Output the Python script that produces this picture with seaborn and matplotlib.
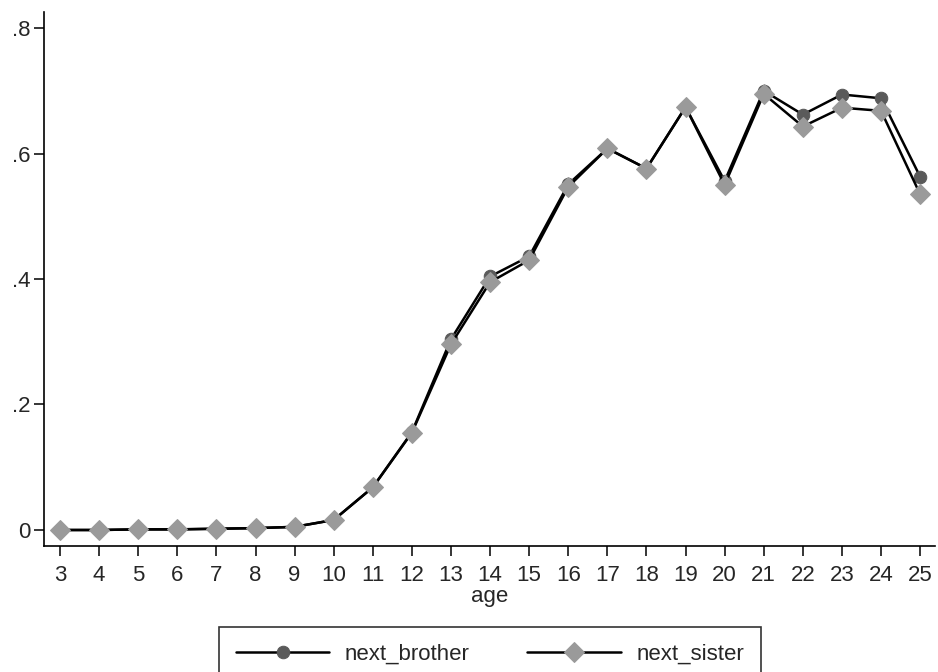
import seaborn as sns
import matplotlib.pyplot as plt
import pandas as pd

# values
age = list(range(3, 26))
next_brother = [0.000, 0.000, 0.001, 0.001, 0.002, 0.003, 0.005, 0.016, 0.068, 0.156,
                0.304, 0.404, 0.436, 0.551, 0.608, 0.576, 0.674, 0.556, 0.700, 0.662,
                0.694, 0.688, 0.563]
next_sister = [0.000, 0.000, 0.001, 0.001, 0.002, 0.003, 0.005, 0.016, 0.068, 0.155,
               0.296, 0.395, 0.430, 0.547, 0.608, 0.576, 0.674, 0.550, 0.695, 0.643,
               0.673, 0.668, 0.535]

data = pd.DataFrame({"age": age, "next_brother": next_brother, "next_sister": next_sister})

sns.set_style("white")
plt.rcParams['font.family'] = ['Liberation Sans', 'DejaVu Sans']

fig = plt.figure(figsize=(9.38, 6.72), dpi=100)
ax = fig.add_axes([44/938, 126/672, 891/938, 534/672])

sns.lineplot(data=data, x="age", y="next_brother", ax=ax, color="black", linewidth=1.8,
             marker="o", markersize=9, markerfacecolor="#5a5a5a", markeredgecolor="#5a5a5a",
             label="next_brother")
sns.lineplot(data=data, x="age", y="next_sister", ax=ax, color="black", linewidth=1.8,
             marker="D", markersize=10, markerfacecolor="#9a9a9a", markeredgecolor="#9a9a9a",
             label="next_sister")

ax.set_xlim(2.59, 25.38)
ax.set_ylim(-0.0255, 0.8255)
ax.set_xticks(age)
ax.set_yticks([0, 0.2, 0.4, 0.6, 0.8])
ax.set_yticklabels(["0", ".2", ".4", ".6", ".8"])
ax.tick_params(axis='both', labelsize=16, direction='out', length=7, width=1.1, color='black',
               bottom=True, left=True)
ax.tick_params(axis='x', pad=7)
ax.tick_params(axis='y', pad=3)
ax.set_xlabel("age", fontsize=16, labelpad=0)
ax.set_ylabel("")
for s in ["top", "right"]:
    ax.spines[s].set_visible(False)
for s in ["left", "bottom"]:
    ax.spines[s].set_color("black")
    ax.spines[s].set_linewidth(1.2)

ax.get_legend().remove()
handles, labels = ax.get_legend_handles_labels()
leg = fig.legend(handles, labels, loc="upper center", bbox_to_anchor=(490/938, 1 - 627/672),
                 ncol=2, fontsize=16, frameon=True, fancybox=False, edgecolor="black",
                 handlelength=4.2, columnspacing=2.6, handletextpad=0.7, borderpad=0.75,
                 borderaxespad=0)
leg.get_frame().set_linewidth(1.2)

fig.savefig("out.png", dpi=100)
